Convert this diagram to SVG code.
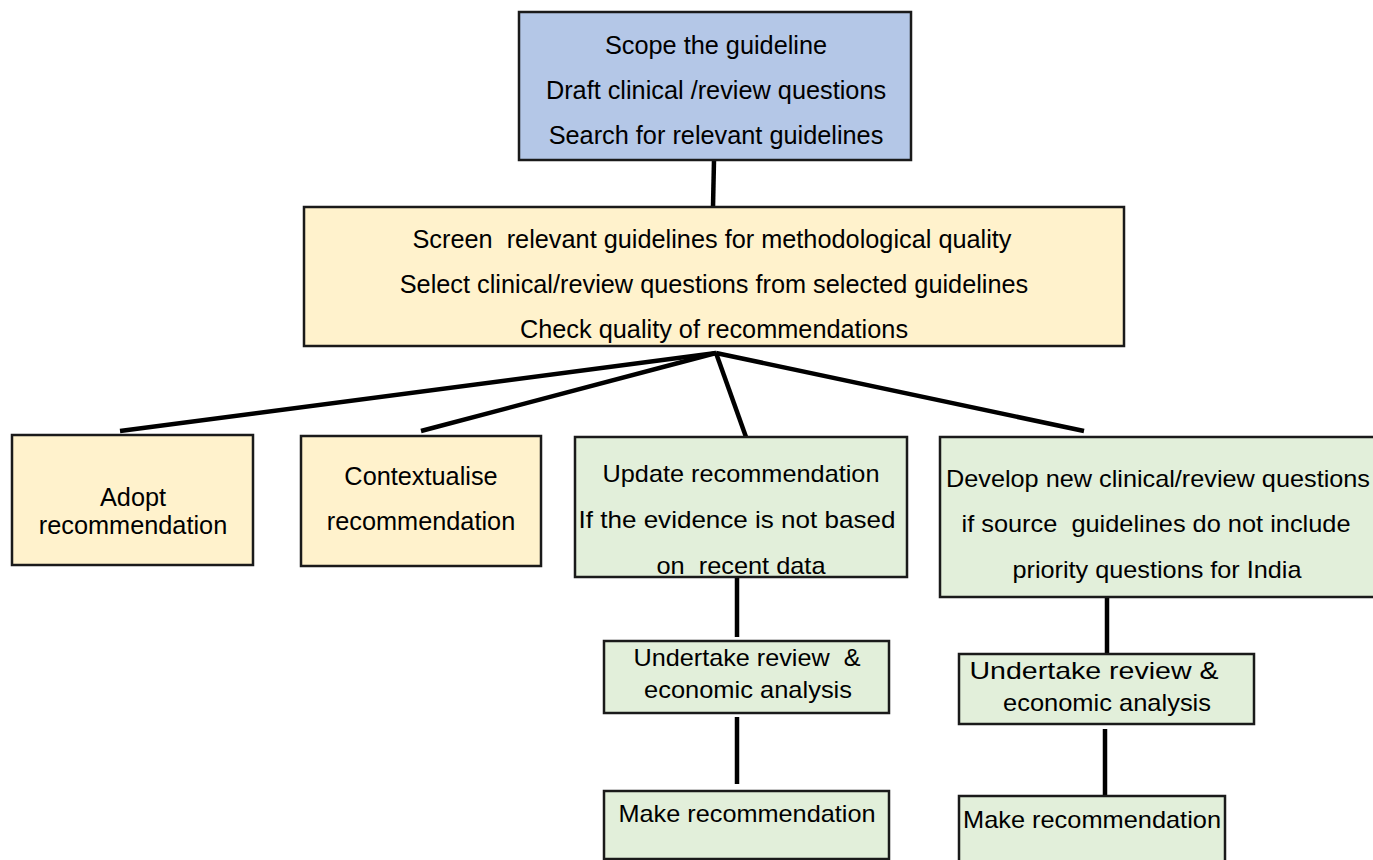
<svg xmlns="http://www.w3.org/2000/svg" width="1373" height="860" viewBox="0 0 1373 860">
<style>
  .box { stroke: #1a1a1a; stroke-width: 2.5; }
  .blue { fill: #b4c7e7; }
  .yellow { fill: #fff2cc; }
  .green { fill: #e2efda; }
  text { font-family: "Liberation Sans", Arial, sans-serif; font-size: 25.3px; fill: #000; text-anchor: middle; }
  .g text { font-size: 24px; }
  .conn line { stroke: #000; stroke-width: 4.5; stroke-linecap: butt; }
</style>
<rect width="1373" height="860" fill="#ffffff"/>
<g id="connectors" class="conn">
  <line x1="714" y1="160" x2="713" y2="207"/>
  <line x1="716" y1="353" x2="120" y2="431"/>
  <line x1="716" y1="353" x2="421" y2="431"/>
  <line x1="716" y1="353" x2="746" y2="437"/>
  <line x1="716" y1="353" x2="1084" y2="431"/>
  <line x1="737" y1="577" x2="737" y2="637"/>
  <line x1="737" y1="717" x2="737" y2="784"/>
  <line x1="1107" y1="597" x2="1107" y2="654"/>
  <line x1="1105" y1="729" x2="1105" y2="796"/>
</g>
<g id="scope">
  <rect class="box blue" x="519" y="12" width="392" height="148"/>
  <text x="716" y="54">Scope the guideline</text>
  <text x="716" y="99">Draft clinical /review questions</text>
  <text x="716" y="144">Search for relevant guidelines</text>
</g>
<g id="screen">
  <rect class="box yellow" x="304" y="207" width="820" height="139"/>
  <text x="712" y="248" xml:space="preserve">Screen  relevant guidelines for methodological quality</text>
  <text x="714" y="293">Select clinical/review questions from selected guidelines</text>
  <text x="714" y="338">Check quality of recommendations</text>
</g>
<g id="adopt">
  <rect class="box yellow" x="12" y="435" width="241" height="130"/>
  <text x="133" y="506">Adopt</text>
  <text x="133" y="534">recommendation</text>
</g>
<g id="contextualise">
  <rect class="box yellow" x="301" y="436" width="240" height="130"/>
  <text x="421" y="485">Contextualise</text>
  <text x="421" y="530">recommendation</text>
</g>
<g id="update" class="g">
  <rect class="box green" x="575" y="437" width="332" height="140"/>
  <text x="741" y="482" textLength="277" lengthAdjust="spacingAndGlyphs">Update recommendation</text>
  <text x="737" y="528" textLength="317" lengthAdjust="spacingAndGlyphs">If the evidence is not based</text>
  <text x="741" y="574" textLength="169" lengthAdjust="spacingAndGlyphs" xml:space="preserve">on  recent data</text>
</g>
<g id="develop" class="g">
  <rect class="box green" x="940" y="437" width="440" height="160"/>
  <text x="1158" y="487" textLength="424" lengthAdjust="spacingAndGlyphs">Develop new clinical/review questions</text>
  <text x="1156" y="532" textLength="389" lengthAdjust="spacingAndGlyphs" xml:space="preserve">if source  guidelines do not include</text>
  <text x="1157" y="578" textLength="289" lengthAdjust="spacingAndGlyphs">priority questions for India</text>
</g>
<g id="review-left" class="g">
  <rect class="box green" x="604" y="641" width="285" height="72"/>
  <text x="747" y="666" textLength="227" lengthAdjust="spacingAndGlyphs" xml:space="preserve">Undertake review  &amp;</text>
  <text x="748" y="698" textLength="208" lengthAdjust="spacingAndGlyphs">economic analysis</text>
</g>
<g id="make-left" class="g">
  <rect class="box green" x="604" y="791" width="285" height="68"/>
  <text x="747" y="822" textLength="257" lengthAdjust="spacingAndGlyphs">Make recommendation</text>
</g>
<g id="review-right" class="g">
  <rect class="box green" x="959" y="654" width="295" height="70"/>
  <text x="1094" y="679" textLength="249" lengthAdjust="spacingAndGlyphs">Undertake review &amp;</text>
  <text x="1107" y="711" textLength="208" lengthAdjust="spacingAndGlyphs">economic analysis</text>
</g>
<g id="make-right" class="g">
  <rect class="box green" x="959" y="796" width="266" height="70"/>
  <text x="1092" y="828" textLength="258" lengthAdjust="spacingAndGlyphs">Make recommendation</text>
</g>
</svg>
